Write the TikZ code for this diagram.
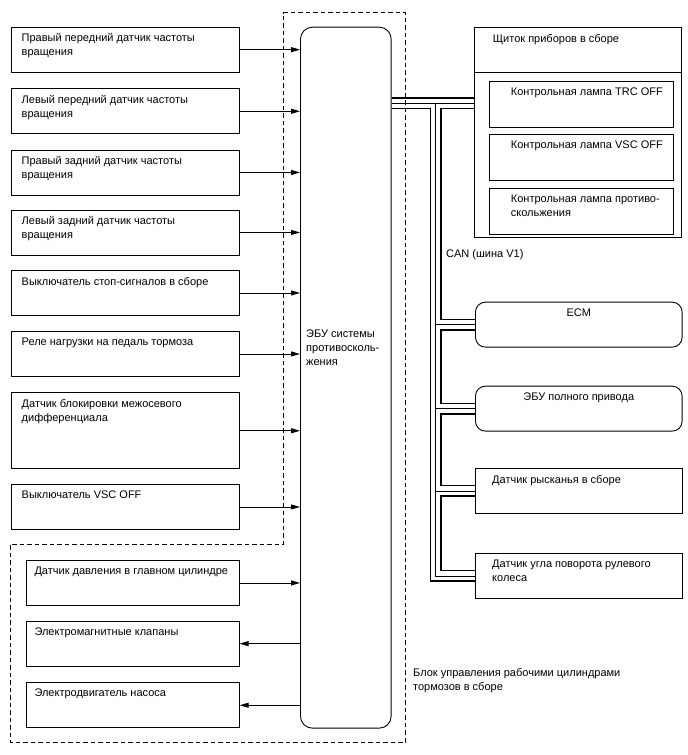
\documentclass[tikz,border=0pt]{standalone}
\usepackage{fontspec}
\setmainfont{Liberation Sans}
\usepackage{tikz}
\usetikzlibrary{arrows.meta}

\pgfdeclarelayer{bg}
\pgfsetlayers{bg,main}

\newcommand{\txt}{\fontsize{11}{14}\selectfont}

\begin{document}
\begin{tikzpicture}
	[
	x=1pt, y=-1pt,
	box/.style={
		draw,
		line width=.9pt,
		anchor=north west,
		inner sep=0pt,
		minimum width=228pt,
		minimum height=45pt
	},
	rbox/.style={
		box,
		rounded corners=10pt,
		minimum width=206.7pt
	},
	lbl/.style={
		anchor=north west,
		inner sep=0pt,
		align=left,
		font=\txt,
		xshift=#1,
		yshift=-6.8pt
	},
	lbl/.default=11pt,
	clbl/.style={
		anchor=north,
		inner sep=0pt,
		font=\txt,
		yshift=-6.8pt
	},
	arrow/.style={
		-{Triangle[length=9pt,width=5pt]},
		line width=.9pt
	}
	]
	\useasboundingbox (0,0) rectangle (688,755);
	
	% ECU and the actuator outline
	\node[box, rounded corners=12pt, minimum width=90.7pt, minimum height=701pt,
		label={[lbl=6pt, yshift=-296pt]north west:ЭБУ системы\\противосколь-\\жения}]
		(ecu) at (300,26.7) {};
	
	\draw[line width=.9pt, dash pattern=on 4.5pt off 3pt]
		(283.3,12.5) -- (405.7,12.5) -- (405.7,742) -- (10,742)
		-- (10,544.3) -- (283.3,544.3) -- cycle;
	
	\node[lbl=0pt, yshift=3.5pt] (act_lbl) at (413,665)
	{Блок управления рабочими цилиндрами\\тормозов в сборе};
	
	% Inputs
	\node[box, label={[lbl]north west:Правый передний датчик частоты\\вращения}]
		(fr_speed) at (10.5,26.7) {};
	\node[box, label={[lbl]north west:Левый передний датчик частоты\\вращения}]
		(fl_speed) at (10.5,88.3) {};
	\node[box, label={[lbl]north west:Правый задний датчик частоты\\вращения}]
		(rr_speed) at (10.5,149.5) {};
	\node[box, label={[lbl]north west:Левый задний датчик частоты\\вращения}]
		(rl_speed) at (10.5,209.5) {};
	\node[box, label={[lbl]north west:Выключатель стоп-сигналов в сборе}]
		(stop_sw) at (10.5,270) {};
	\node[box, label={[lbl]north west:Реле нагрузки на педаль тормоза}]
		(pedal_relay) at (10.5,331) {};
	\node[box, minimum height=76pt,
		label={[lbl]north west:Датчик блокировки межосевого\\дифференциала}]
		(diff_lock) at (10.5,392.3) {};
	\node[box, label={[lbl]north west:Выключатель VSC OFF}]
		(vsc_sw) at (10.5,484) {};
	
	% Actuator assembly
	\node[box, minimum width=213pt,
		label={[lbl=8.6pt]north west:Датчик давления в главном цилиндре}]
		(mc_press) at (25.7,560) {};
	\node[box, minimum width=213pt,
		label={[lbl=8.6pt]north west:Электромагнитные клапаны}]
		(solenoids) at (25.7,620.7) {};
	\node[box, minimum width=213pt,
		label={[lbl=8.6pt]north west:Электродвигатель насоса}]
		(pump_motor) at (25.7,682.3) {};
	
	% Combination meter
	\node[box, minimum width=206.7pt, minimum height=209.4pt,
		label={[lbl=18.7pt]north west:Щиток приборов в сборе}]
		(cluster) at (474,27.3) {};
	\draw[line width=.9pt] ([yshift=-45.4pt]cluster.north west)
		-- ([yshift=-45.4pt]cluster.north east);
	\node[box, minimum width=183.4pt, minimum height=46pt,
		label={[lbl=21.4pt]north west:Контрольная лампа TRC OFF}]
		(trc_lamp) at (489.3,80.7) {};
	\node[box, minimum width=183.4pt, minimum height=46pt,
		label={[lbl=21.4pt]north west:Контрольная лампа VSC OFF}]
		(vsc_lamp) at (489.3,134.3) {};
	\node[box, minimum width=183.4pt, minimum height=46pt,
		label={[lbl=21.4pt]north west:Контрольная лампа противо-\\скольжения}]
		(slip_lamp) at (489.3,187.7) {};
	
	% CAN nodes
	\node[rbox, label={[clbl]north:ECM}] (ecm) at (475,301.7) {};
	\node[rbox, label={[clbl]north:ЭБУ полного привода}] (awd) at (475,385.7) {};
	\node[box, minimum width=206.7pt,
		label={[lbl=17pt]north west:Датчик рысканья в сборе}]
		(yaw) at (475,468) {};
	\node[box, minimum width=206.7pt,
		label={[lbl=17pt]north west:Датчик угла поворота рулевого\\колеса}]
		(steer) at (475,553) {};
	
	\node[anchor=west, inner sep=0pt, font=\txt] (can_lbl) at (446,255)
	{CAN (шина V1)};
	
	% Bus
	\coordinate (can_top) at (435.5,103);
	\coordinate (can_bot) at (can_top |- steer.west);
	\begin{pgfonlayer}{bg}
		\foreach \w/\c in {12pt/black, 9pt/white, .8pt/black}
		\draw[line width=\w, \c]
			(ecu.east |- can_top) -- (cluster.west |- can_top)
			(can_top) -- (can_bot) -- (steer.west)
			(can_top |- ecm.west) -- (ecm.west)
			(can_top |- awd.west) -- (awd.west)
			(can_top |- yaw.west) -- (yaw.west);
	\end{pgfonlayer}
	
	% Arrows
	\foreach \n in {fr_speed, fl_speed, rr_speed, rl_speed, stop_sw,
		pedal_relay, diff_lock, vsc_sw, mc_press}
	\draw[arrow] (\n.east) -- (\n.east -| ecu.west);
	\draw[arrow] (solenoids.east -| ecu.west) -- (solenoids.east);
	\draw[arrow] (pump_motor.east -| ecu.west) -- (pump_motor.east);
	
\end{tikzpicture}
\end{document}
